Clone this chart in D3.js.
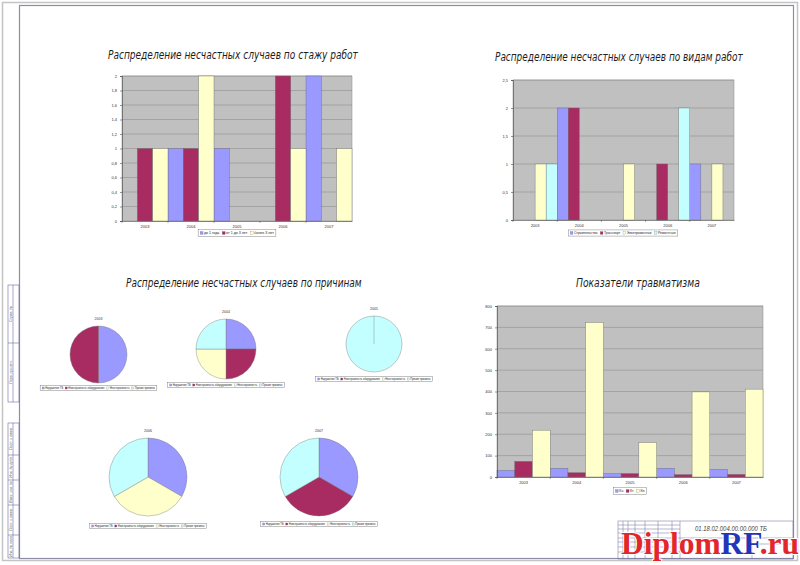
<!DOCTYPE html>
<html>
<head>
<meta charset="utf-8">
<script src="https://cdn.jsdelivr.net/npm/d3@7/dist/d3.min.js"></script>
<style>
  body { margin: 0; background: #fff; }
  svg { display: block; }
</style>
</head>
<body>
<svg id="sheet" width="800" height="565"></svg>
<script>
// --- data ---
const years = ['2003', '2004', '2005', '2006', '2007'];

const stazhSeries = ['до 1 года', 'от 1 до 3 лет', 'более 3 лет'];
const stazhValues = [
  [0, 1, 1, 0, 2],
  [1, 1, 0, 2, 0],
  [1, 2, 0, 1, 1],
];
const stazhTicks = [0, 0.2, 0.4, 0.6, 0.8, 1, 1.2, 1.4, 1.6, 1.8, 2];

const vidSeries = ['Строительство', 'Транспорт', 'Электромонтаж', 'Ремонтные'];
const vidValues = [
  [0, 2, 0, 0, 1],
  [0, 2, 0, 1, 0],
  [1, 0, 1, 0, 1],
  [1, 0, 0, 2, 0],
];
const vidTicks = [0, 0.5, 1, 1.5, 2, 2.5];

const causeSeries = ['Нарушение ТБ', 'Неисправность оборудования', 'Неосторожность', 'Прочие причины'];
const causeValues = [
  [1, 1, 0, 0],
  [1, 1, 1, 1],
  [0, 0, 0, 1],
  [1, 0, 1, 1],
  [1, 1, 0, 1],
];

const traumaSeries = ['Кч', 'Кт', 'Кп'];
const traumaValues = [
  [31, 41, 16, 41, 36],
  [73, 20, 16, 11, 12],
  [219, 723, 161, 398, 411],
];
const traumaTicks = [0, 100, 200, 300, 400, 500, 600, 700, 800];

const palette = ['#9999ff', '#a82c62', '#ffffcc', '#c4ffff'];

// --- sheet ---
const svg = d3.select('#sheet');
const titleFont = '"DejaVu Sans", sans-serif';
const smallFont = '"Liberation Sans", Arial, sans-serif';

svg.append('rect')
  .attr('x', 2.5).attr('y', 2.5).attr('width', 795).attr('height', 558)
  .attr('fill', 'none').attr('stroke', '#c4c4c4').attr('stroke-width', 1.5);
svg.append('rect')
  .attr('x', 19.5).attr('y', 5.5).attr('width', 774).attr('height', 553)
  .attr('fill', 'none').attr('stroke', '#8c8ca6').attr('stroke-width', 1.2);

// squeeze a thin italic title into the width it has on the sheet
function drawTitle(text, x0, x1, yBase) {
  const t = svg.append('text')
    .attr('x', 0).attr('y', 0)
    .style('font-family', titleFont)
    .style('font-weight', 200)
    .style('font-style', 'italic')
    .style('font-size', '13px')
    .style('fill', '#1e1e1e')
    .text(text);
  const sx = (x1 - x0) / t.node().getComputedTextLength();
  t.attr('transform', `translate(${x0},${yBase}) scale(${sx},1)`);
}

function drawLegend(items, colors, cx, cy, fontSize) {
  const g = svg.append('g');
  const sw = fontSize * 0.8;
  let pos = 0;
  const parts = [];
  items.forEach((name, i) => {
    const sq = g.append('rect')
      .attr('y', cy - sw / 2).attr('width', sw).attr('height', sw)
      .attr('fill', colors[i]).attr('stroke', '#555').attr('stroke-width', 0.2);
    const t = g.append('text')
      .attr('y', cy + fontSize * 0.35)
      .style('font-family', smallFont)
      .style('font-size', `${fontSize}px`)
      .style('fill', '#222')
      .text(name);
    const w = t.node().getComputedTextLength();
    parts.push({ sq, t, start: pos });
    pos += sw + 1 + w + fontSize * 0.8;
  });
  const total = pos - fontSize * 0.8;
  const left = cx - total / 2;
  parts.forEach((p) => {
    p.sq.attr('x', left + p.start);
    p.t.attr('x', left + p.start + sw + 1);
  });
  g.insert('rect', ':first-child')
    .attr('x', left - 2).attr('y', cy - fontSize * 0.9)
    .attr('width', total + 4).attr('height', fontSize * 1.8)
    .attr('fill', '#fff').attr('stroke', '#666').attr('stroke-width', 0.4);
}

function makeBarChart(box, series, values, ticks, fmt) {
  const x = d3.scaleBand().domain(years).range([box.left, box.right]);
  const xs = d3.scaleBand().domain(d3.range(series.length)).range([0, x.bandwidth()]);
  const y = d3.scaleLinear().domain([0, d3.max(ticks)]).range([box.bottom, box.top]);

  const chart = svg.append('g');

  chart.append('rect')
    .attr('x', box.left).attr('y', box.top)
    .attr('width', box.right - box.left).attr('height', box.bottom - box.top)
    .attr('fill', '#c0c0c0').attr('stroke', '#8a8a8a').attr('stroke-width', 0.5);

  chart.append('g')
    .selectAll('line')
    .data(ticks.slice(1))
    .join('line')
    .attr('x1', box.left).attr('x2', box.right)
    .attr('y1', (d) => y(d)).attr('y2', (d) => y(d))
    .attr('stroke', '#878787').attr('stroke-width', 0.5);

  const cells = [];
  values.forEach((row, s) => row.forEach((v, i) => cells.push({ s, year: years[i], v })));

  chart.append('g')
    .selectAll('rect')
    .data(cells.filter((d) => d.v > 0))
    .join('rect')
    .attr('x', (d) => x(d.year) + xs(d.s))
    .attr('y', (d) => y(d.v))
    .attr('width', xs.bandwidth())
    .attr('height', (d) => y(0) - y(d.v))
    .attr('fill', (d) => palette[d.s])
    .attr('stroke', '#6a6a6a')
    .attr('stroke-width', 0.4);

  const yAxis = chart.append('g')
    .attr('transform', `translate(${box.left},0)`)
    .call(d3.axisLeft(y).tickValues(ticks).tickSize(2).tickFormat(fmt));
  const xAxis = chart.append('g')
    .attr('transform', `translate(0,${box.bottom})`)
    .call(d3.axisBottom(x).tickSize(0).tickPadding(4));

  // Excel style ticks between categories
  chart.append('g')
    .selectAll('line')
    .data(years)
    .join('line')
    .attr('x1', (d) => x(d)).attr('x2', (d) => x(d))
    .attr('y1', box.bottom).attr('y2', box.bottom + 2)
    .attr('stroke', '#333').attr('stroke-width', 0.4);

  [yAxis, xAxis].forEach((a) => {
    a.selectAll('path, line').attr('stroke', '#333').attr('stroke-width', 0.5);
    a.selectAll('text')
      .style('font-family', smallFont)
      .style('font-size', '4px')
      .style('fill', '#333');
  });
}

const comma = (d) => String(d).replace('.', ',');

// chart 1: by length of service
drawTitle('Распределение несчастных случаев по стажу работ', 108, 358, 59);
makeBarChart({ left: 122, right: 352, top: 76, bottom: 221 }, stazhSeries, stazhValues, stazhTicks, comma);
drawLegend(stazhSeries, palette, 237, 233, 3.6);

// chart 2: by kind of work
drawTitle('Распределение несчастных случаев по видам работ', 495, 743, 61);
makeBarChart({ left: 513, right: 734, top: 80, bottom: 220 }, vidSeries, vidValues, vidTicks, comma);
drawLegend(vidSeries, palette, 623, 233, 3.4);

// chart 4: trauma indicators
drawTitle('Показатели травматизма', 576, 700, 287);
makeBarChart({ left: 497, right: 763, top: 306, bottom: 477 }, traumaSeries, traumaValues, traumaTicks, (d) => d);
drawLegend(traumaSeries, palette, 630, 491, 3.6);

// chart 3: causes (pies)
drawTitle('Распределение несчастных случаев по причинам', 126, 362, 287);

const pieLayout = [
  { cx: 98.5, cy: 354.5, r: 28.5, ly: 388 },
  { cx: 226, cy: 349, r: 30, ly: 385 },
  { cx: 374, cy: 344, r: 28, ly: 379 },
  { cx: 148, cy: 477, r: 39, ly: 526 },
  { cx: 319, cy: 477, r: 39, ly: 524 },
];

const pie = d3.pie().sort(null).value((d) => d.v);

causeValues.forEach((vals, k) => {
  const L = pieLayout[k];
  const arc = d3.arc().innerRadius(0).outerRadius(L.r);
  const g = svg.append('g').attr('transform', `translate(${L.cx},${L.cy})`);
  const slices = pie(vals.map((v, s) => ({ v, s })));
  g.selectAll('path')
    .data(slices.filter((d) => d.data.v > 0))
    .join('path')
    .attr('d', arc)
    .attr('fill', (d) => palette[d.data.s])
    .attr('stroke', '#777')
    .attr('stroke-width', 0.4);
  // zero-size slices still leave a radial edge at the top
  if (slices.filter((d) => d.data.v > 0).length === 1) {
    g.append('line')
      .attr('x1', 0).attr('y1', 0).attr('x2', 0).attr('y2', -L.r)
      .attr('stroke', '#777').attr('stroke-width', 0.4);
  }
  g.append('text')
    .attr('y', -L.r - 6)
    .attr('text-anchor', 'middle')
    .style('font-family', smallFont)
    .style('font-size', '3.5px')
    .style('fill', '#333')
    .text(years[k]);
  drawLegend(causeSeries, palette, L.cx, L.ly, 2.6);
});

// --- left stamp columns ---
const stamp = svg.append('g').attr('stroke', '#6c6ca0').attr('stroke-width', 0.6).attr('fill', 'none');
stamp.append('rect').attr('x', 8).attr('y', 285).attr('width', 11).attr('height', 117);
stamp.append('line').attr('x1', 8).attr('x2', 19).attr('y1', 343).attr('y2', 343);
stamp.append('rect').attr('x', 8).attr('y', 423).attr('width', 11).attr('height', 135);
[455, 480, 505, 535].forEach((yy) => stamp.append('line').attr('x1', 8).attr('x2', 19).attr('y1', yy).attr('y2', yy));
stamp.append('line').attr('x1', 13).attr('x2', 13).attr('y1', 285).attr('y2', 402);
stamp.append('line').attr('x1', 13).attr('x2', 13).attr('y1', 423).attr('y2', 558);

const stampLabels = [
  { y: 314, t: 'Справ. №' }, { y: 372, t: 'Перв. примен.' },
  { y: 439, t: 'Подп. и дата' }, { y: 467, t: 'Инв. № дубл.' }, { y: 492, t: 'Взам. инв. №' },
  { y: 520, t: 'Подп. и дата' }, { y: 546, t: 'Инв. № подл.' },
];
stampLabels.forEach((d) => {
  svg.append('text')
    .attr('transform', `translate(11.5,${d.y}) rotate(-90)`)
    .attr('text-anchor', 'middle')
    .style('font-family', smallFont)
    .style('font-style', 'italic')
    .style('font-size', '3.5px')
    .style('fill', '#666')
    .text(d.t);
});

// --- title block ---
const tb = svg.append('g').attr('stroke', '#6c6ca0').attr('stroke-width', 0.5).attr('fill', 'none');
tb.append('rect').attr('x', 618).attr('y', 521).attr('width', 175).attr('height', 38);
[623, 628, 635, 645, 658, 672].forEach((xx) => tb.append('line').attr('x1', xx).attr('x2', xx).attr('y1', 521).attr('y2', 559));
tb.append('line').attr('x1', 680).attr('x2', 680).attr('y1', 521).attr('y2', 559);
[525, 529, 533, 538, 542, 547, 552].forEach((yy) => tb.append('line').attr('x1', 618).attr('x2', 680).attr('y1', yy).attr('y2', yy));
tb.append('line').attr('x1', 680).attr('x2', 793).attr('y1', 538).attr('y2', 538);
tb.append('line').attr('x1', 752).attr('x2', 752).attr('y1', 538).attr('y2', 559);
tb.append('line').attr('x1', 752).attr('x2', 793).attr('y1', 544).attr('y2', 544);

svg.append('text')
  .attr('x', 695).attr('y', 531)
  .attr('textLength', 72)
  .attr('lengthAdjust', 'spacingAndGlyphs')
  .style('font-family', smallFont)
  .style('font-style', 'italic')
  .style('font-size', '7.5px')
  .style('fill', '#444')
  .text('01.18.02.004.00.00.000 ТБ');

// watermark
const wm = svg.append('text')
  .attr('x', 621).attr('y', 554)
  .attr('textLength', 178)
  .attr('lengthAdjust', 'spacingAndGlyphs')
  .style('font-family', '"Liberation Serif", "DejaVu Serif", serif')
  .style('font-weight', 'bold')
  .style('font-size', '31px')
  .style('paint-order', 'stroke')
  .attr('stroke', '#fff')
  .attr('stroke-width', 2);
wm.append('tspan').attr('fill', '#e3262b').text('Diplom');
wm.append('tspan').attr('fill', '#2336b8').text('RF');
wm.append('tspan').attr('fill', '#e3262b').text('.ru');
</script>
</body>
</html>
